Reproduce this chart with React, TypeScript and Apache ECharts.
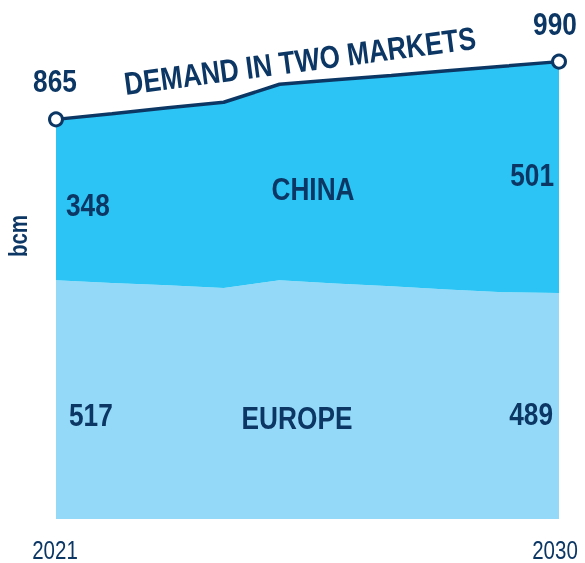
import React, { useEffect, useRef } from "react";
import * as echarts from "echarts";

const years = ["2021", "2022", "2023", "2024", "2025", "2026", "2027", "2028", "2029", "2030"];
const europe = [517, 511, 506, 500, 517, 510, 504, 497, 491, 489];
const china = [348, 366, 384, 402, 424, 441, 456, 473, 489, 501];
const totals = europe.map((e, i) => e + china[i]);

const NAVY = "#0C3765";
const FONT = "'Liberation Sans', Arial, sans-serif";
const NARROW = 0.82;
const CHINA_COLOR = "#2BC4F4";
const EUROPE_COLOR = "#94DAF8";

export default function App() {
  const ref = useRef<HTMLDivElement>(null);
  useEffect(() => {
    if (!ref.current) return;
    const chart = echarts.init(ref.current, null, { renderer: "svg" });
    const last = years.length - 1;
    chart.setOption({
      animation: false,
      grid: { left: 56, right: 26, top: 57, bottom: 44, containLabel: false },
      xAxis: {
        type: "category",
        data: years,
        boundaryGap: false,
        axisLine: { show: false },
        axisTick: { show: false },
        splitLine: { show: false },
        axisLabel: { show: false },
      },
      yAxis: {
        type: "value",
        min: 0,
        max: 1000,
        show: false,
      },
      series: [
        {
          name: "Europe",
          type: "line",
          stack: "total",
          data: europe,
          symbol: "none",
          lineStyle: { width: 0 },
          areaStyle: { color: EUROPE_COLOR, opacity: 1 },
        },
        {
          name: "China",
          type: "line",
          stack: "total",
          data: china,
          symbol: "none",
          lineStyle: { width: 0 },
          areaStyle: { color: CHINA_COLOR, opacity: 1 },
        },
        {
          name: "Total",
          type: "line",
          data: totals,
          z: 5,
          symbol: "circle",
          showAllSymbol: true,
          symbolSize: (_v: any, p: any) => (p.dataIndex === 0 || p.dataIndex === last ? 13 : 0),
          itemStyle: { color: "#ffffff", borderColor: NAVY, borderWidth: 3 },
          lineStyle: { color: NAVY, width: 3.5 },
        },
      ],
    });

    const px = (i: number, v: number) => chart.convertToPixel({ gridIndex: 0 }, [i, v]) as number[];
    const txt = (
      text: string,
      x: number,
      y: number,
      align: string,
      opts: { size?: number; weight?: string; rotation?: number; lineHeight?: number } = {}
    ) => ({
      type: "text",
      x,
      y,
      z: 100,
      scaleX: NARROW,
      rotation: opts.rotation || 0,
      style: {
        text,
        fill: NAVY,
        fontFamily: FONT,
        fontWeight: opts.weight || "bold",
        fontSize: opts.size || 32,
        lineHeight: opts.lineHeight,
        align,
        verticalAlign: "middle",
      },
    });

    const c0 = px(0, europe[0] + china[0] / 2);
    const c1 = px(last, europe[last] + china[last] / 2);
    const e0 = px(0, europe[0] / 2);
    const e1 = px(last, europe[last] / 2);
    const t0 = px(0, totals[0]);
    const t1 = px(last, totals[last]);
    const b0 = px(0, 0);
    const b1 = px(last, 0);

    chart.setOption({
      graphic: [
        txt(String(china[0]), c0[0] + 10, c0[1] + 5, "left"),
        txt(String(china[last]), c1[0] - 5, c1[1] - 2, "right"),
        txt(String(europe[0]), e0[0] + 13, e0[1] + 15, "left"),
        txt(String(europe[last]), e1[0] - 6, e1[1] + 8, "right"),
        txt(String(totals[0]), t0[0] - 1, t0[1] - 38, "center"),
        txt(String(totals[last]), t1[0] - 4, t1[1] - 38, "center"),
        txt(years[0], b0[0] - 1, b0[1] + 31, "center", { size: 25, weight: "normal", lineHeight: 22 }),
        txt(years[last], b1[0] - 4, b1[1] + 31, "center", { size: 25, weight: "normal", lineHeight: 22 }),
        txt("CHINA", 313, 189, "center"),
        txt("EUROPE", 297, 418, "center"),
        txt("DEMAND IN TWO MARKETS", 300, 61, "center", { rotation: (7.5 * Math.PI) / 180 }),
        txt("bcm", 18, 236, "center", { size: 25, rotation: Math.PI / 2 }),
      ],
    });

    return () => chart.dispose();
  }, []);
  return <div ref={ref} style={{ position: "fixed", left: 0, top: 0, width: 585, height: 563 }} />;
}
